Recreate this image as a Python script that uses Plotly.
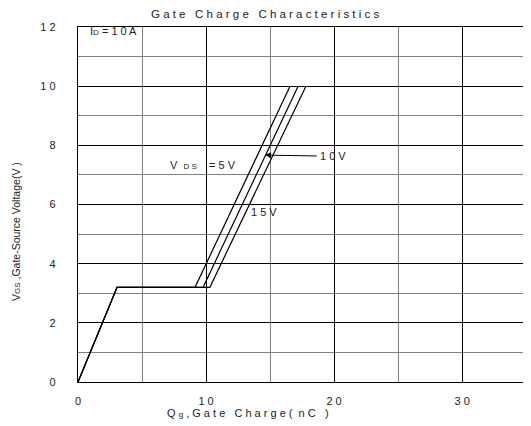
import plotly.graph_objects as go

# Data
vds_labels = ["5V", "10V", "15V"]
qg_5v = [0, 3.05, 9.14, 16.56]
vgs_5v = [0, 3.2, 3.2, 10]
qg_10v = [0, 3.05, 9.77, 17.19]
vgs_10v = [0, 3.2, 3.2, 10]
qg_15v = [0, 3.05, 10.3, 17.8]
vgs_15v = [0, 3.2, 3.2, 10]

x_tickvals = [0, 10, 20, 30]
x_ticktext = ["0", "1 0", "2 0", "3 0"]
y_tickvals = [0, 2, 4, 6, 8, 10, 12]
y_ticktext = ["0", "2", "4", "6", "8", "1 0", "1 2"]

FONT = "Liberation Sans, Arial, sans-serif"
PX = 12.8  # pixels per nC in layout (for text placement)

fig = go.Figure()
for xs, ys, name in [(qg_5v, vgs_5v, "5V"), (qg_10v, vgs_10v, "10V"), (qg_15v, vgs_15v, "15V")]:
    fig.add_trace(go.Scatter(x=xs, y=ys, mode="lines", name=name,
                             line=dict(color="black", width=1.2), showlegend=False))

fig.update_layout(
    width=523, height=418,
    margin=dict(l=70, r=1, t=19, b=44),
    paper_bgcolor="white", plot_bgcolor="white",
    font=dict(family=FONT, size=11, color="#222"),
    showlegend=False,
)
fig.update_xaxes(
    range=[0, 35.3], tickvals=x_tickvals, ticktext=x_ticktext,
    showgrid=True, gridcolor="black", gridwidth=1,
    minor=dict(dtick=5, tick0=0, showgrid=True, gridcolor="#808080", gridwidth=1.2),
    showline=True, linecolor="black", linewidth=1.3, mirror=True,
    ticks="", ticklabelstandoff=9, zeroline=False,
    tickfont=dict(size=11, family=FONT),
)
fig.update_yaxes(
    range=[0, 12], tickvals=y_tickvals, ticktext=y_ticktext,
    showgrid=True, gridcolor="black", gridwidth=1,
    minor=dict(dtick=1, tick0=0, showgrid=True, gridcolor="#808080", gridwidth=1.2),
    showline=True, linecolor="black", linewidth=1.3, mirror=False,
    ticks="", ticklabelstandoff=19, zeroline=False,
    tickfont=dict(size=11, family=FONT),
)

ann = []
ann.append(dict(text="G a t e   C h a r g e   C h a r a c t e r i s t i c s",
                xref="paper", yref="paper", x=(265 - 78) / 452, y=1, yshift=13,
                showarrow=False, xanchor="center", yanchor="middle",
                font=dict(size=11.5, family=FONT)))
ann.append(dict(text="Q <span style='font-size:8px'>g</span> , G a t e   C h a r g e (  n C   )",
                xref="paper", yref="paper", x=(248 - 78) / 452, y=0, yshift=-31,
                showarrow=False, xanchor="center", yanchor="middle",
                font=dict(size=11, family=FONT)))
ann.append(dict(text="V<span style='font-size:8px'>GS</span> ,Gate-Source Voltage(V )",
                xref="paper", yref="paper", x=0, xshift=-62, y=(382 - 232) / 355,
                showarrow=False, xanchor="center", yanchor="middle", textangle=-90,
                font=dict(size=10.5, family=FONT)))
ann.append(dict(text="I<span style='font-size:8px'>D</span> = 1 0 A",
                x=(88 - 78) / PX, y=11.86, showarrow=False, xanchor="left", yanchor="middle",
                font=dict(size=11, family=FONT)))
ann.append(dict(text="V  <span style='font-size:8px'>D S</span>    = 5 V",
                x=(168 - 78) / PX, y=7.33, showarrow=False, xanchor="left", yanchor="middle",
                font=dict(size=11, family=FONT)))
ann.append(dict(text="1 5 V",
                x=(249 - 78) / PX, y=5.74, showarrow=False, xanchor="left", yanchor="middle",
                font=dict(size=11, family=FONT)))
ann.append(dict(text="1 0 V",
                x=(318 - 78) / PX, y=7.64, showarrow=False, xanchor="left", yanchor="middle",
                font=dict(size=11, family=FONT)))
ann.append(dict(text="", x=14.6, y=7.67, ax=18.75, ay=7.64, axref="x", ayref="y",
                showarrow=True, arrowhead=2, arrowsize=1.2, arrowwidth=1, arrowcolor="black"))
fig.update_layout(annotations=ann)

fig.write_html("out.html")
